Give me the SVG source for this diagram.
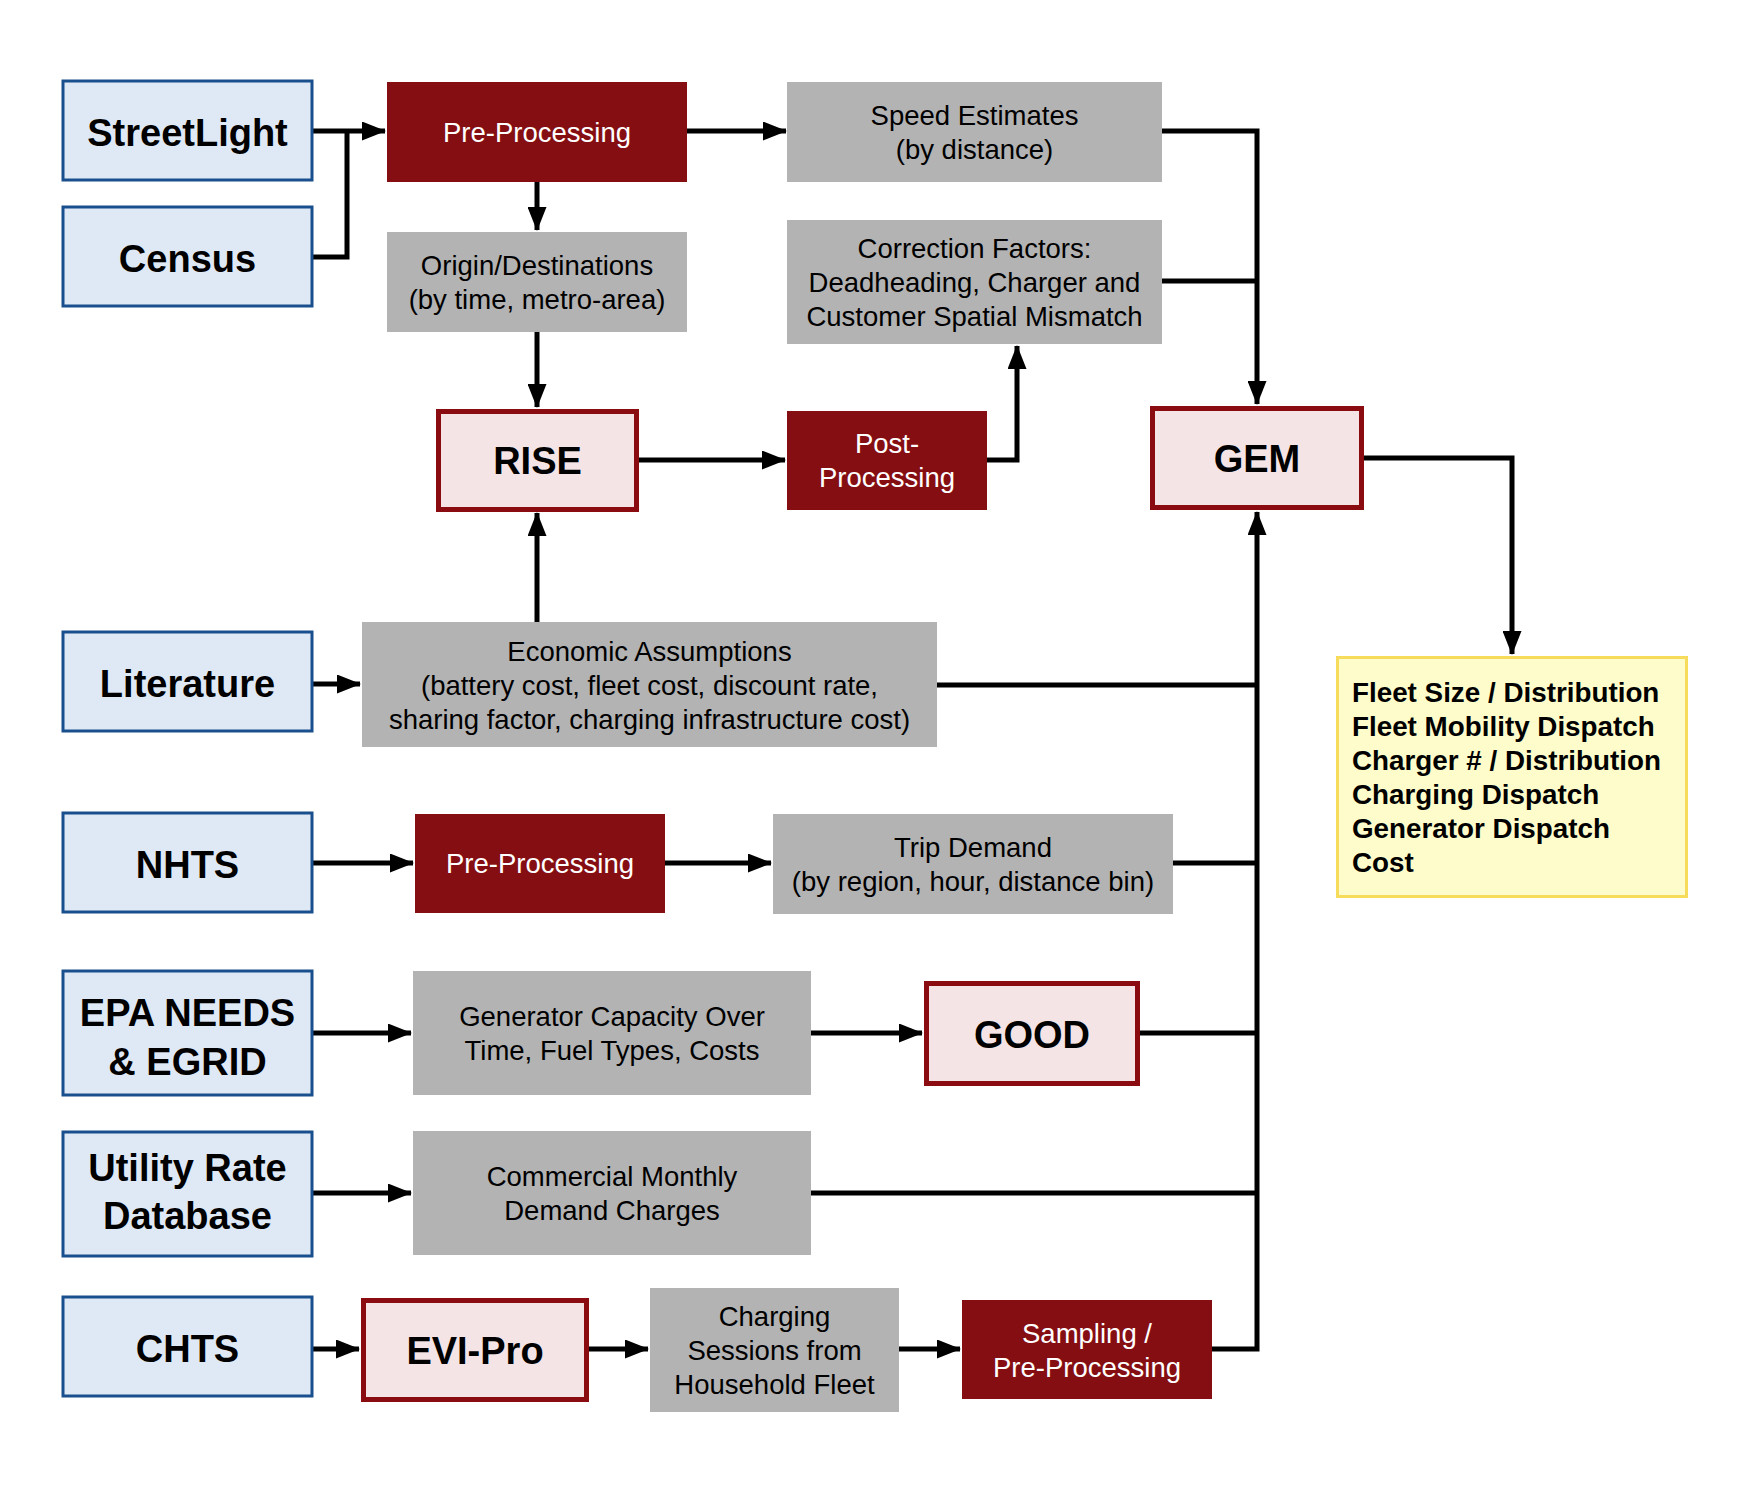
<svg xmlns="http://www.w3.org/2000/svg" width="1750" height="1500" viewBox="0 0 1750 1500">
<defs>
<marker id="ah" markerUnits="userSpaceOnUse" markerWidth="25" markerHeight="19" refX="23" refY="9.5" orient="auto">
<path d="M0,0 L24,9.5 L0,19 z" fill="#000"/>
</marker>
<style>
text{font-family:"Liberation Sans",Arial,Helvetica,sans-serif;}
.src rect{fill:#dfe9f6;stroke:#1a4f8e;stroke-width:3;}
.src text{font-size:38px;font-weight:bold;fill:#000;text-anchor:middle;}
.proc rect{fill:#850e12;}
.proc text{font-size:27.5px;fill:#fff;text-anchor:middle;}
.model rect{fill:#f4e4e6;stroke:#8a0b10;stroke-width:5;}
.model text{font-size:38px;font-weight:bold;fill:#000;text-anchor:middle;}
.data rect{fill:#b3b3b3;}
.data text{font-size:27.5px;fill:#000;text-anchor:middle;}
.out rect{fill:#fefcca;stroke:#f7db5a;stroke-width:3;}
.out text{font-size:27.8px;font-weight:bold;fill:#000;}
#connectors path{fill:none;stroke:#000;stroke-width:5;stroke-linejoin:miter;}
.arr{marker-end:url(#ah);}
</style>
</defs>
<rect width="1750" height="1500" fill="#fff"/>

<g id="connectors">
<path class="arr" d="M313,131 H385"/>
<path d="M313,257 H347 V131"/>
<path class="arr" d="M687,131 H786"/>
<path class="arr" d="M537,182 V230"/>
<path class="arr" d="M537,332 V407"/>
<path class="arr" d="M639,460 H785"/>
<path class="arr" d="M987,460 H1017 V346"/>
<path class="arr" d="M1162,131 H1257 V404"/>
<path d="M1162,281 H1257"/>
<path class="arr" d="M1364,458 H1512 V654"/>
<path class="arr" d="M537,622 V513"/>
<path class="arr" d="M313,684 H360"/>
<path d="M937,685 H1257"/>
<path class="arr" d="M313,863 H413"/>
<path class="arr" d="M665,863 H771"/>
<path d="M1173,863 H1257"/>
<path class="arr" d="M313,1033 H411"/>
<path class="arr" d="M811,1033 H922"/>
<path d="M1140,1033 H1257"/>
<path class="arr" d="M313,1193 H411"/>
<path d="M811,1193 H1257"/>
<path class="arr" d="M313,1349 H359"/>
<path class="arr" d="M589,1349 H648"/>
<path class="arr" d="M899,1349 H960"/>
<path class="arr" d="M1212,1349 H1257 V512"/>
</g>

<g id="streetlight" class="src"><rect x="63" y="81" width="249" height="99"/><text x="187.5" y="146">StreetLight</text></g>
<g id="census" class="src"><rect x="63" y="207" width="249" height="99"/><text x="187.5" y="272">Census</text></g>
<g id="literature" class="src"><rect x="63" y="632" width="249" height="99"/><text x="187.5" y="697">Literature</text></g>
<g id="nhts" class="src"><rect x="63" y="813" width="249" height="99"/><text x="187.5" y="878">NHTS</text></g>
<g id="epa" class="src"><rect x="63" y="971" width="249" height="124"/><text x="187.5" y="1026">EPA NEEDS</text><text x="187.5" y="1075">&amp; EGRID</text></g>
<g id="utility" class="src"><rect x="63" y="1132" width="249" height="124"/><text x="187.5" y="1181">Utility Rate</text><text x="187.5" y="1229">Database</text></g>
<g id="chts" class="src"><rect x="63" y="1297" width="249" height="99"/><text x="187.5" y="1362">CHTS</text></g>

<g id="preproc1" class="proc"><rect x="387" y="82" width="300" height="100"/><text x="537" y="142">Pre-Processing</text></g>
<g id="postproc" class="proc"><rect x="787" y="411" width="200" height="99"/><text x="887" y="453">Post-</text><text x="887" y="487">Processing</text></g>
<g id="preproc2" class="proc"><rect x="415" y="814" width="250" height="99"/><text x="540" y="873">Pre-Processing</text></g>
<g id="sampling" class="proc"><rect x="962" y="1300" width="250" height="99"/><text x="1087" y="1343">Sampling /</text><text x="1087" y="1377">Pre-Processing</text></g>

<g id="rise" class="model"><rect x="438.5" y="411.5" width="198" height="98"/><text x="537.5" y="474">RISE</text></g>
<g id="gem" class="model"><rect x="1152.5" y="408.5" width="209" height="99"/><text x="1257" y="472">GEM</text></g>
<g id="good" class="model"><rect x="926.5" y="983.5" width="211" height="100"/><text x="1032" y="1048">GOOD</text></g>
<g id="evipro" class="model"><rect x="363.5" y="1300.5" width="223" height="99"/><text x="475" y="1364">EVI-Pro</text></g>

<g id="speed" class="data"><rect x="787" y="82" width="375" height="100"/><text x="974.5" y="125">Speed Estimates</text><text x="974.5" y="159">(by distance)</text></g>
<g id="origin" class="data"><rect x="387" y="232" width="300" height="100"/><text x="537" y="275">Origin/Destinations</text><text x="537" y="309">(by time, metro-area)</text></g>
<g id="correction" class="data"><rect x="787" y="220" width="375" height="124"/><text x="974.5" y="258">Correction Factors:</text><text x="974.5" y="292">Deadheading, Charger and</text><text x="974.5" y="326">Customer Spatial Mismatch</text></g>
<g id="economic" class="data"><rect x="362" y="622" width="575" height="125"/><text x="649.5" y="661">Economic Assumptions</text><text x="649.5" y="695">(battery cost, fleet cost, discount rate,</text><text x="649.5" y="729">sharing factor, charging infrastructure cost)</text></g>
<g id="tripdemand" class="data"><rect x="773" y="814" width="400" height="100"/><text x="973" y="857">Trip Demand</text><text x="973" y="891">(by region, hour, distance bin)</text></g>
<g id="gencap" class="data"><rect x="413" y="971" width="398" height="124"/><text x="612" y="1026">Generator Capacity Over</text><text x="612" y="1060">Time, Fuel Types, Costs</text></g>
<g id="commercial" class="data"><rect x="413" y="1131" width="398" height="124"/><text x="612" y="1186">Commercial Monthly</text><text x="612" y="1220">Demand Charges</text></g>
<g id="sessions" class="data"><rect x="650" y="1288" width="249" height="124"/><text x="774.5" y="1326">Charging</text><text x="774.5" y="1360">Sessions from</text><text x="774.5" y="1394">Household Fleet</text></g>

<g id="outputs" class="out"><rect x="1337.5" y="657.5" width="349" height="239"/>
<text x="1352" y="702">Fleet Size / Distribution</text>
<text x="1352" y="736">Fleet Mobility Dispatch</text>
<text x="1352" y="770">Charger # / Distribution</text>
<text x="1352" y="804">Charging Dispatch</text>
<text x="1352" y="838">Generator Dispatch</text>
<text x="1352" y="872">Cost</text>
</g>
</svg>
